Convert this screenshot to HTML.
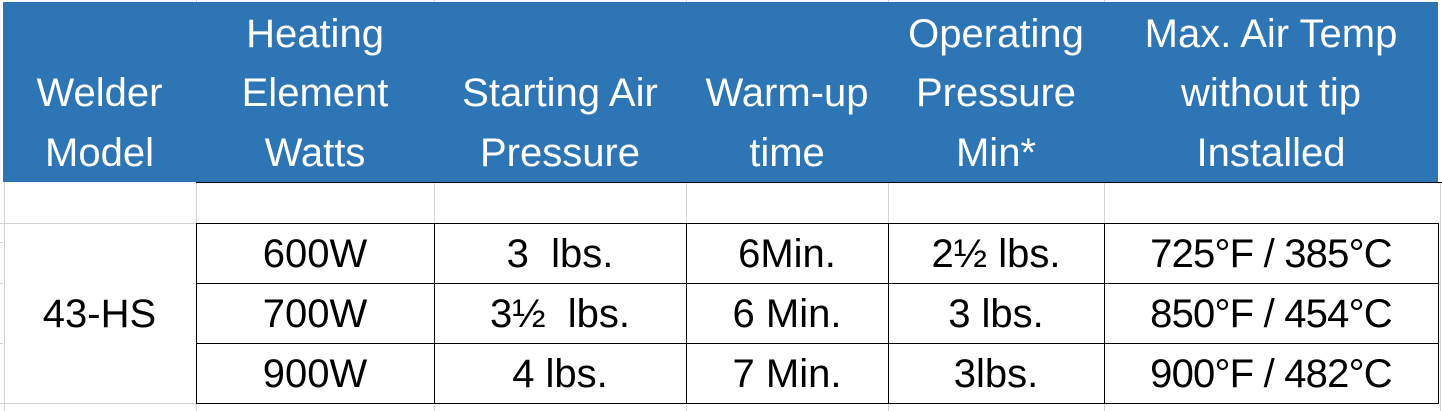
<!DOCTYPE html>
<html><head><meta charset="utf-8"><style>
html,body{margin:0;padding:0;background:#fff;}
body{width:1442px;height:411px;position:relative;overflow:hidden;font-family:"Liberation Sans",Arial,sans-serif;}
.g{position:absolute;background:#d4d4d4;}
.k{position:absolute;background:#000;}
.hdr{position:absolute;left:3px;top:2px;width:1435px;height:180px;background:#2E75B6;}
.t{position:absolute;text-align:center;font-size:40px;white-space:pre;}
.h{color:#fff;line-height:59.5px;}
.d{color:#000;line-height:60px;}
</style></head><body>
<!-- gray gridlines -->
<div class="g" style="left:4px;top:182px;width:1px;height:229px"></div>
<div class="g" style="left:196px;top:0;width:1px;height:2px"></div>
<div class="g" style="left:434px;top:0;width:1px;height:2px"></div>
<div class="g" style="left:686px;top:0;width:1px;height:2px"></div>
<div class="g" style="left:888px;top:0;width:1px;height:2px"></div>
<div class="g" style="left:1104px;top:0;width:1px;height:2px"></div>
<div class="g" style="left:196px;top:182px;width:1px;height:41px"></div>
<div class="g" style="left:434px;top:182px;width:1px;height:41px"></div>
<div class="g" style="left:686px;top:182px;width:1px;height:41px"></div>
<div class="g" style="left:888px;top:182px;width:1px;height:41px"></div>
<div class="g" style="left:1104px;top:182px;width:1px;height:41px"></div>
<div class="g" style="left:1440px;top:182px;width:1px;height:229px"></div>
<div class="g" style="left:196px;top:403px;width:1px;height:8px"></div>
<div class="g" style="left:434px;top:403px;width:1px;height:8px"></div>
<div class="g" style="left:686px;top:403px;width:1px;height:8px"></div>
<div class="g" style="left:888px;top:403px;width:1px;height:8px"></div>
<div class="g" style="left:1104px;top:403px;width:1px;height:8px"></div>
<div class="g" style="left:0;top:223px;width:196px;height:1px"></div>
<div class="g" style="left:0;top:403px;width:196px;height:1px"></div>
<div class="g" style="left:0;top:242px;width:3px;height:1px"></div>
<div class="g" style="left:0;top:283px;width:3px;height:1px"></div>
<div class="g" style="left:0;top:343px;width:3px;height:1px"></div>

<!-- header -->
<div class="hdr"></div>
<div class="k" style="left:196px;top:182px;width:1246px;height:1px"></div>

<!-- black table borders -->
<div class="k" style="left:196px;top:223px;width:1243px;height:1px"></div>
<div class="k" style="left:196px;top:283px;width:1243px;height:1px"></div>
<div class="k" style="left:196px;top:343px;width:1243px;height:1px"></div>
<div class="k" style="left:196px;top:403px;width:1243px;height:1px"></div>
<div class="k" style="left:196px;top:223px;width:1px;height:181px"></div>
<div class="k" style="left:434px;top:223px;width:1px;height:181px"></div>
<div class="k" style="left:686px;top:223px;width:1px;height:181px"></div>
<div class="k" style="left:888px;top:223px;width:1px;height:181px"></div>
<div class="k" style="left:1104px;top:223px;width:1px;height:181px"></div>
<div class="k" style="left:1438px;top:223px;width:1px;height:181px"></div>

<!-- header text -->
<div class="t h" style="left:3px;width:193px;top:64px">Welder
Model</div>
<div class="t h" style="left:196px;width:238px;top:4.5px">Heating
Element
Watts</div>
<div class="t h" style="left:434px;width:252px;top:64px">Starting Air
Pressure</div>
<div class="t h" style="left:686px;width:202px;top:64px">Warm-up
time</div>
<div class="t h" style="left:888px;width:216px;top:4.5px">Operating
Pressure
Min*</div>
<div class="t h" style="left:1104px;width:334px;top:4.5px">Max. Air Temp
without tip
Installed</div>

<!-- data text -->
<div class="t d" style="left:3px;width:193px;top:284px">43-HS</div>

<div class="t d" style="left:196px;width:238px;top:224px">600W</div>
<div class="t d" style="left:196px;width:238px;top:284px">700W</div>
<div class="t d" style="left:196px;width:238px;top:344px">900W</div>

<div class="t d" style="left:434px;width:252px;top:224px">3  lbs.</div>
<div class="t d" style="left:434px;width:252px;top:284px">3½  lbs.</div>
<div class="t d" style="left:434px;width:252px;top:344px">4 lbs.</div>

<div class="t d" style="left:686px;width:202px;top:224px">6Min.</div>
<div class="t d" style="left:686px;width:202px;top:284px">6 Min.</div>
<div class="t d" style="left:686px;width:202px;top:344px">7 Min.</div>

<div class="t d" style="left:888px;width:216px;top:224px">2½ lbs.</div>
<div class="t d" style="left:888px;width:216px;top:284px">3 lbs.</div>
<div class="t d" style="left:888px;width:216px;top:344px">3lbs.</div>

<div class="t d" style="left:1104px;width:334px;top:224px;letter-spacing:-0.8px">725°F / 385°C</div>
<div class="t d" style="left:1104px;width:334px;top:284px;letter-spacing:-0.8px">850°F / 454°C</div>
<div class="t d" style="left:1104px;width:334px;top:344px;letter-spacing:-0.8px">900°F / 482°C</div>
</body></html>
